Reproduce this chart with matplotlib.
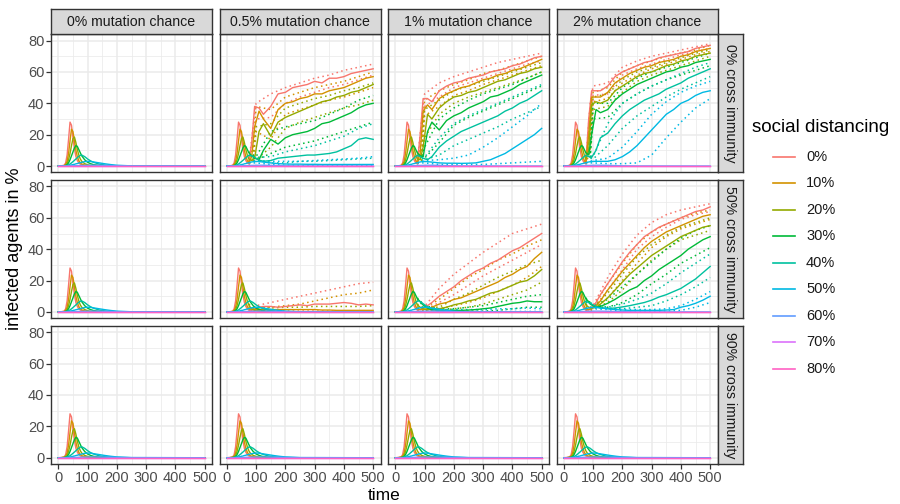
import matplotlib
matplotlib.use("Agg")
import matplotlib.pyplot as plt
from matplotlib.lines import Line2D

plt.rcParams['font.family'] = ['Liberation Sans', 'DejaVu Sans']

# ---------------- data ----------------
LEVELS = ["0%", "10%", "20%", "30%", "40%", "50%", "60%", "70%", "80%"]
COLORS = ["#F8766D", "#D39200", "#93AA00", "#00BA38", "#00C19F",
          "#00B9E3", "#619CFF", "#DB72FB", "#FF61C3"]
MUTATION = ["0% mutation chance", "0.5% mutation chance",
            "1% mutation chance", "2% mutation chance"]
IMMUNITY = ["0% cross immunity", "50% cross immunity", "90% cross immunity"]
X_TICKS = [0, 100, 200, 300, 400, 500]
Y_TICKS = [0, 20, 40, 60, 80]

# first outbreak (identical in every panel)
T_EARLY = [0, 10, 20, 25, 30, 35, 40, 45, 50, 55, 60, 65, 70, 75, 80, 90,
           100, 110, 120, 140, 160, 180, 200, 250, 500]
W1_0 = [0, 0.1, 0.5, 2, 7, 17, 28, 26, 18, 11, 6, 3.5, 2, 1.2, 0.8, 0.4,
        0.2, 0.1, 0.1, 0, 0, 0, 0, 0, 0]
W1_10 = [0, 0.1, 0.3, 1, 3, 8, 16, 23.5, 22, 16, 10, 6, 3.5, 2, 1.3, 0.6,
         0.3, 0.2, 0.1, 0, 0, 0, 0, 0, 0]
W1_20 = [0, 0, 0.2, 0.5, 1.5, 4, 8, 13, 17.5, 18.5, 15, 10.5, 7, 4.5, 3, 1.5,
         0.8, 0.4, 0.2, 0.1, 0, 0, 0, 0, 0]
W1_30 = [0, 0, 0.1, 0.3, 0.8, 2, 4, 6.5, 9, 11.5, 13, 12.5, 10.5, 8.5, 6.5, 4,
         2.4, 1.5, 0.9, 0.4, 0.2, 0.1, 0, 0, 0]
W1_40 = [0, 0, 0.1, 0.2, 0.4, 0.8, 1.3, 2, 2.8, 3.6, 4.5, 5.3, 6.2, 6.8, 7, 6,
         4.5, 3.3, 2.4, 1.2, 0.6, 0.3, 0.15, 0, 0]
W1_50 = [0, 0, 0, 0.1, 0.2, 0.3, 0.5, 0.7, 0.9, 1.1, 1.4, 1.6, 1.9, 2.1, 2.4,
         2.8, 3, 2.9, 2.6, 2, 1.4, 0.9, 0.5, 0.1, 0]
W1_60 = [0, 0, 0, 0, 0, 0.05, 0.1, 0.1, 0.15, 0.2, 0.2, 0.25, 0.3, 0.3, 0.35,
         0.4, 0.45, 0.5, 0.5, 0.45, 0.35, 0.25, 0.15, 0.05, 0]
W1_70 = [0, 0, 0, 0, 0, 0, 0, 0, 0, 0, 0, 0, 0, 0, 0, 0, 0, 0, 0, 0, 0, 0, 0, 0, 0]
W1_80 = [0, 0, 0, 0, 0, 0, 0, 0, 0, 0, 0, 0, 0, 0, 0, 0, 0, 0, 0, 0, 0, 0, 0, 0, 0]
WAVE1 = [W1_0, W1_10, W1_20, W1_30, W1_40, W1_50, W1_60, W1_70, W1_80]

# later course (mean) for panels with renewed outbreaks
T_LATE = [75, 85, 95, 110, 125, 150, 175, 200, 225, 250, 275, 300, 325, 350,
          375, 400, 425, 450, 475, 500]
# dotted bounds
T_BAND = [75, 90, 100, 150, 200, 250, 300, 350, 400, 450, 500]

MEAN_M05_C0 = {
    0: [1.5, 15, 38, 37, 33, 38, 46, 47, 50, 51, 52, 54, 53, 56, 56, 57, 59, 60, 61, 62],
    1: [2, 6, 25, 35, 30, 24, 36, 40, 41, 43, 44, 46, 46, 48, 49, 50, 52, 54, 56, 57],
    2: [4.5, 3.5, 5, 22, 27, 19, 28, 31, 33, 35, 37, 39, 41, 42, 44, 45, 47, 48, 50, 52],
    3: [8.5, 6.5, 5, 4, 10, 17, 14, 18, 20, 21, 22, 24, 27, 28, 30, 32, 34, 37, 39, 40],
    4: [6.8, 6.5, 5.5, 3.8, 3, 3.5, 5, 5.5, 6, 6.5, 7, 7, 7.5, 8, 9, 11, 13, 17, 18, 17],
    5: [2.1, 2.6, 2.9, 2.9, 2.5, 2, 1.5, 1.3, 1.2, 1.2, 1.1, 1.1, 1, 1, 1, 1, 1, 1, 1, 1],
}
BAND_M05_C0 = {
    0: ([2, 25, 40, 46, 50, 53, 56, 58, 61, 63, 65], [1, 5, 30, 31, 40, 44, 47, 50, 52, 55, 58]),
    1: ([3, 12, 38, 36, 44, 47, 50, 52, 54, 57, 60], [1.5, 3, 22, 17, 33, 36, 39, 42, 44, 47, 50]),
    2: ([5, 6, 25, 27, 37, 40, 43, 45, 48, 50, 53], [3, 3, 4, 12, 24, 28, 31, 34, 37, 39, 42]),
    3: ([9, 7, 6, 22, 25, 27, 29, 33, 37, 42, 45], [7, 5, 4, 8, 12, 14, 16, 19, 22, 25, 28]),
    4: ([7, 6.5, 5.5, 6, 9, 11, 13, 16, 19, 24, 27], [6, 5, 4, 2, 2, 3, 3, 3.5, 4, 4.5, 5]),
    5: ([2.5, 3, 3.5, 3, 3, 3, 3.5, 4, 4.5, 5, 6], [1.5, 2, 2, 1, 0.5, 0.3, 0.3, 0.3, 0.3, 0.3, 0.3]),
}

MEAN_M1_C0 = {
    0: [1.5, 20, 43, 43, 41, 48, 51, 53, 54, 56, 57, 58, 60, 61, 62, 64, 65, 67, 69, 70],
    1: [2, 8, 35, 39, 36, 43, 46, 48, 50, 51, 53, 55, 56, 58, 59, 61, 62, 64, 66, 68],
    2: [4.5, 4, 12, 33, 30, 37, 41, 44, 45, 47, 48, 50, 52, 54, 55, 57, 59, 60, 62, 63],
    3: [8.5, 6.5, 6, 22, 28, 23, 29, 32, 34, 37, 39, 41, 44, 45, 47, 49, 52, 54, 56, 58],
    4: [6.8, 6, 5, 4, 6, 12, 16, 19, 22, 24, 26, 28, 30, 32, 35, 37, 40, 42, 45, 48],
    5: [2.1, 2.6, 2.9, 2.8, 2.5, 2, 1.8, 1.8, 1.7, 1.8, 2, 3, 4, 6, 8, 11, 14, 17, 20, 24],
}
BAND_M1_C0 = {
    0: ([2, 30, 46, 53, 57, 60, 63, 66, 68, 70, 72], [1, 10, 38, 44, 50, 53, 56, 59, 62, 65, 67]),
    1: ([3, 18, 42, 48, 52, 55, 59, 61, 64, 67, 70], [1.5, 4, 32, 38, 45, 48, 52, 55, 58, 61, 64]),
    2: ([5, 6, 36, 42, 48, 51, 54, 57, 60, 63, 66], [4, 3, 18, 33, 40, 44, 47, 50, 53, 56, 60]),
    3: ([9, 7, 12, 30, 37, 42, 46, 49, 52, 56, 60], [8, 6, 5, 15, 26, 31, 35, 39, 43, 47, 51]),
    4: ([7, 6.5, 5.5, 18, 27, 32, 36, 40, 44, 48, 52], [6, 5, 4, 7, 13, 17, 21, 25, 30, 34, 38]),
    5: ([2.5, 3, 3.5, 4, 5, 7, 12, 18, 25, 32, 40], [1.5, 2, 2, 1, 1, 1, 1, 1.5, 2, 2.5, 3]),
}

MEAN_M2_C0 = {
    0: [1.5, 30, 48, 48, 48, 51, 57, 60, 62, 64, 66, 67, 69, 70, 71, 72, 73, 75, 76, 77],
    1: [2, 20, 44, 44, 44, 47, 53, 56, 59, 61, 63, 64, 66, 67, 68, 70, 71, 73, 74, 75],
    2: [4.5, 10, 39, 41, 40, 42, 48, 51, 54, 57, 59, 60, 62, 64, 65, 67, 68, 70, 71, 72],
    3: [8.5, 7, 20, 36, 34, 36, 42, 46, 49, 52, 54, 56, 58, 60, 61, 63, 64, 66, 67, 68],
    4: [6.8, 6, 5.5, 10, 18, 21, 27, 32, 36, 39, 42, 44, 46, 49, 51, 53, 56, 58, 60, 62],
    5: [2.1, 2.6, 2.9, 3, 3, 3, 4, 6, 9, 13, 18, 23, 28, 33, 36, 40, 42, 45, 47, 48],
}
BAND_M2_C0 = {
    0: ([2, 40, 51, 53, 63, 67, 70, 72, 74, 76, 78], [1, 20, 45, 46, 58, 62, 65, 68, 71, 73, 75]),
    1: ([3, 30, 47, 50, 60, 64, 67, 70, 72, 74, 77], [1.5, 10, 41, 43, 53, 58, 62, 65, 68, 71, 73]),
    2: ([5, 20, 44, 46, 55, 60, 63, 66, 69, 72, 74], [4, 5, 36, 38, 47, 54, 58, 61, 64, 67, 70]),
    3: ([9, 8, 40, 40, 50, 56, 60, 63, 66, 69, 72], [8, 6, 30, 31, 40, 46, 51, 55, 58, 61, 64]),
    4: ([7, 6.5, 6, 27, 40, 46, 51, 55, 59, 63, 66], [6, 5, 4.5, 13, 24, 32, 38, 44, 49, 53, 57]),
    5: ([2.5, 3, 3.5, 5, 12, 22, 33, 41, 47, 51, 54], [1.5, 2, 2, 1.5, 1.5, 2, 7, 18, 28, 37, 43]),
}

MEAN_M05_C50 = {
    0: [1.2, 1, 2, 3, 3.5, 3.5, 3, 3.5, 4, 4.5, 4, 5, 5, 5, 5.5, 6, 5.5, 4.5, 5, 4.5],
    1: [2, 1.5, 1.5, 1.5, 1.5, 1.5, 1.5, 1.5, 1.5, 1.5, 1.5, 1.5, 1.2, 1.2, 1, 1, 1, 1, 1, 1],
}
BAND_M05_C50 = {
    0: ([2, 3, 4, 6, 8, 10, 12, 14, 16, 18, 19], [1, 0.5, 0.5, 0.5, 0.5, 0.5, 0.5, 0.5, 0.5, 0.5, 0.5]),
    1: ([2.5, 2.5, 2.5, 3, 4, 5, 7, 9, 11, 12, 14], [1.5, 1, 0.5, 0.3, 0.2, 0.2, 0.2, 0.2, 0.2, 0.2, 0.2]),
    2: ([5, 3, 2.5, 2.5, 3, 3, 3.5, 3.5, 3.5, 3.5, 4], [4, 2, 1, 0.3, 0.1, 0.1, 0.1, 0.1, 0.1, 0.1, 0.1]),
}

MEAN_M1_C50 = {
    0: [1.2, 1.5, 2.5, 4, 6, 10, 13, 16, 20, 23, 26, 28, 31, 33, 36, 39, 41, 44, 47, 50],
    1: [2, 1.5, 1.5, 2, 3, 5, 6, 8, 9, 11, 13, 15, 17, 19, 22, 24, 27, 29, 34, 38],
    2: [4.5, 3, 2, 1.5, 1.5, 2, 3, 4.5, 5.5, 7, 8, 10, 12, 13, 15, 17, 19, 20, 23, 27],
    3: [8.5, 6.5, 4.5, 2.5, 1.5, 1, 1, 1, 1, 1.2, 1.5, 2, 2.5, 3.5, 4.5, 5.5, 6, 7, 6.5, 6.5],
}
BAND_M1_C50 = {
    0: ([2, 2.5, 3.5, 15, 24, 31, 38, 44, 50, 53, 56], [1, 1, 1.5, 6, 11, 17, 23, 28, 33, 38, 43]),
    1: ([2.5, 2, 2.5, 8, 15, 22, 27, 33, 37, 42, 46], [1.5, 1, 1, 2, 4, 6, 9, 13, 17, 22, 29]),
    2: ([5, 3.5, 3, 3, 8, 12, 17, 22, 26, 30, 33], [4, 2, 1, 1, 2, 3, 5, 8, 11, 14, 19]),
    3: ([9, 6, 4, 2, 2, 3, 4, 6, 8, 10, 11], [8, 5, 3, 0.5, 0.5, 0.5, 0.5, 1, 2, 3, 3]),
    5: ([2.5, 3, 3, 1.5, 1.5, 1.5, 1.5, 2, 2, 2.5, 2], [1.5, 2, 2, 0.5, 0.3, 0.3, 0.3, 0.3, 0.3, 0.3, 0.3]),
}

MEAN_M2_C50 = {
    0: [1.2, 1.2, 2.5, 6, 11, 18, 25, 32, 38, 43, 48, 51, 54, 56, 58, 60, 62, 64, 65, 67],
    1: [2, 1.5, 2, 4, 7, 14, 20, 26, 31, 36, 41, 45, 48, 51, 53, 55, 57, 59, 61, 62],
    2: [4.5, 3, 2.5, 3, 5, 9, 14, 19, 24, 28, 32, 36, 39, 42, 45, 48, 50, 52, 54, 55],
    3: [8.5, 6.5, 4.5, 3, 3.5, 5.5, 8, 11, 14, 16, 20, 23, 27, 30, 33, 36, 40, 43, 46, 48],
    4: [6.8, 6, 5, 3.5, 2.5, 2.2, 2.5, 3.2, 4, 5, 6, 7.5, 9.5, 11, 13, 15, 18, 21, 25, 29],
    5: [2.1, 2.5, 2.8, 2.8, 2.5, 2, 1.5, 1.2, 1, 1, 1, 1, 1, 1.2, 1.5, 3, 4, 5.5, 7.5, 10],
}
BAND_M2_C50 = {
    0: ([2, 2, 4, 22, 37, 49, 57, 62, 65, 67, 69], [1, 1, 2, 14, 27, 40, 48, 54, 59, 62, 64]),
    1: ([2.5, 2, 3, 18, 31, 43, 51, 56, 60, 63, 65], [1.5, 1, 1.5, 9, 20, 31, 41, 48, 53, 56, 59]),
    2: ([5, 3, 3, 12, 24, 35, 43, 49, 54, 57, 60], [4, 2.5, 2, 6, 14, 24, 33, 40, 46, 49, 52]),
    3: ([9, 6, 4, 8, 16, 24, 32, 40, 47, 52, 55], [8, 5, 3, 3, 6, 11, 18, 24, 31, 36, 41]),
    4: ([7, 6, 5, 3, 5, 8, 12, 18, 25, 31, 37], [6, 5, 4, 2, 2, 3, 4, 7, 11, 16, 22]),
    5: ([2.5, 3, 3, 2.5, 1.5, 1.5, 1.5, 2, 4, 8, 13], [1.5, 2, 2, 1.5, 0.5, 0.5, 0.5, 0.5, 1, 3, 6]),
}

PANEL_MEANS = {(0, 1): MEAN_M05_C0, (0, 2): MEAN_M1_C0, (0, 3): MEAN_M2_C0,
               (1, 1): MEAN_M05_C50, (1, 2): MEAN_M1_C50, (1, 3): MEAN_M2_C50}
PANEL_BANDS = {(0, 1): BAND_M05_C0, (0, 2): BAND_M1_C0, (0, 3): BAND_M2_C0,
               (1, 1): BAND_M05_C50, (1, 2): BAND_M1_C50, (1, 3): BAND_M2_C50}

# ---------------- layout ----------------
W, H = 900, 504
fig = plt.figure(figsize=(9, 5.04), dpi=100)


def fx(px):
    return px / W


def fy(py):
    return 1 - py / H


PANEL_L = [51.0, 219.5, 388.0, 556.5]
PANEL_W = 161.0
ROW_T = [34.3, 180.2, 326.0]
PANEL_H = 138.0
STRIP = 25.3

BORDER = "#333333"
GRID = "#EBEBEB"
TICKTXT = "#4D4D4D"

n_early = sum(1 for t in T_EARLY if t < T_LATE[0])

for r in range(3):
    for c in range(4):
        ax = fig.add_axes([fx(PANEL_L[c]), fy(ROW_T[r] + PANEL_H),
                           fx(PANEL_W), PANEL_H / H])
        ax.set_xlim(-25, 525)
        ax.set_ylim(-4, 84)
        ax.set_xticks(X_TICKS)
        ax.set_yticks(Y_TICKS)
        ax.set_xticks([50, 150, 250, 350, 450], minor=True)
        ax.set_yticks([10, 30, 50, 70], minor=True)
        ax.grid(which="major", color=GRID, lw=1.1)
        ax.grid(which="minor", color=GRID, lw=0.55)
        ax.set_axisbelow(True)
        for s in ax.spines.values():
            s.set_color(BORDER)
            s.set_linewidth(1.0)
        ax.tick_params(which="minor", length=0)
        ax.tick_params(which="major", color=BORDER, length=3.5, width=0.9,
                       labelsize=10.5, labelcolor=TICKTXT, pad=1.2)
        if r != 2:
            ax.tick_params(axis="x", which="major", length=0, labelbottom=False)
        if c != 0:
            ax.tick_params(axis="y", which="major", length=0, labelleft=False)

        means = PANEL_MEANS.get((r, c), {})
        bands = PANEL_BANDS.get((r, c), {})
        for i in range(len(LEVELS)):
            if i in bands:
                up, lo = bands[i]
                for b in (up, lo):
                    ax.plot(T_BAND, b, color=COLORS[i], lw=1.1,
                            ls=(0, (1, 2.2)))
        for i in range(len(LEVELS)):
            if i in means:
                t = T_EARLY[:n_early] + T_LATE
                v = WAVE1[i][:n_early] + means[i]
            else:
                t, v = T_EARLY, WAVE1[i]
            ax.plot(t, v, color=COLORS[i], lw=1.0, solid_joinstyle="round")

        # strips
        if r == 0:
            sax = fig.add_axes([fx(PANEL_L[c]), fy(ROW_T[0]),
                                fx(PANEL_W), STRIP / H])
            sax.set_facecolor("#D9D9D9")
            sax.set_xticks([]); sax.set_yticks([])
            for s in sax.spines.values():
                s.set_color(BORDER); s.set_linewidth(1.0)
            sax.text(0.5, 0.48, MUTATION[c], ha="center", va="center",
                     fontsize=10.2, color="#1A1A1A", transform=sax.transAxes)
        if c == 3:
            rax = fig.add_axes([fx(PANEL_L[3] + PANEL_W), fy(ROW_T[r] + PANEL_H),
                                fx(STRIP), PANEL_H / H])
            rax.set_facecolor("#D9D9D9")
            rax.set_xticks([]); rax.set_yticks([])
            for s in rax.spines.values():
                s.set_color(BORDER); s.set_linewidth(1.0)
            rax.text(0.5, 0.5, IMMUNITY[r], ha="center", va="center",
                     rotation=-90, fontsize=10.2, color="#1A1A1A",
                     transform=rax.transAxes)

# axis titles
fig.text(fx(15), fy((ROW_T[0] + ROW_T[2] + PANEL_H) / 2), "infected agents in %",
         rotation=90, ha="center", va="center", fontsize=13, color="black")
fig.text(fx((PANEL_L[0] + PANEL_L[3] + PANEL_W) / 2), fy(502.5), "time",
         ha="center", va="bottom", fontsize=12.5, color="black")

# legend (drawn manually to match ggplot placement)
LEG_TITLE_X, LEG_TITLE_Y = 752, 128
KEY_X0, KEY_X1, LABEL_X = 773, 795, 806
KEY_Y0, KEY_DY = 157, 26.45
fig.text(fx(LEG_TITLE_X), fy(LEG_TITLE_Y), "social distancing", ha="left",
         va="center", fontsize=13.5, color="black")
for i, (lab, col) in enumerate(zip(LEVELS, COLORS)):
    yy = fy(KEY_Y0 + KEY_DY * i)
    fig.add_artist(Line2D([fx(KEY_X0), fx(KEY_X1)], [yy, yy], color=col,
                          lw=1.2, transform=fig.transFigure))
    fig.text(fx(LABEL_X), yy, lab, ha="left", va="center", fontsize=10.5,
             color="#1A1A1A")

fig.savefig("out.png", dpi=100)
